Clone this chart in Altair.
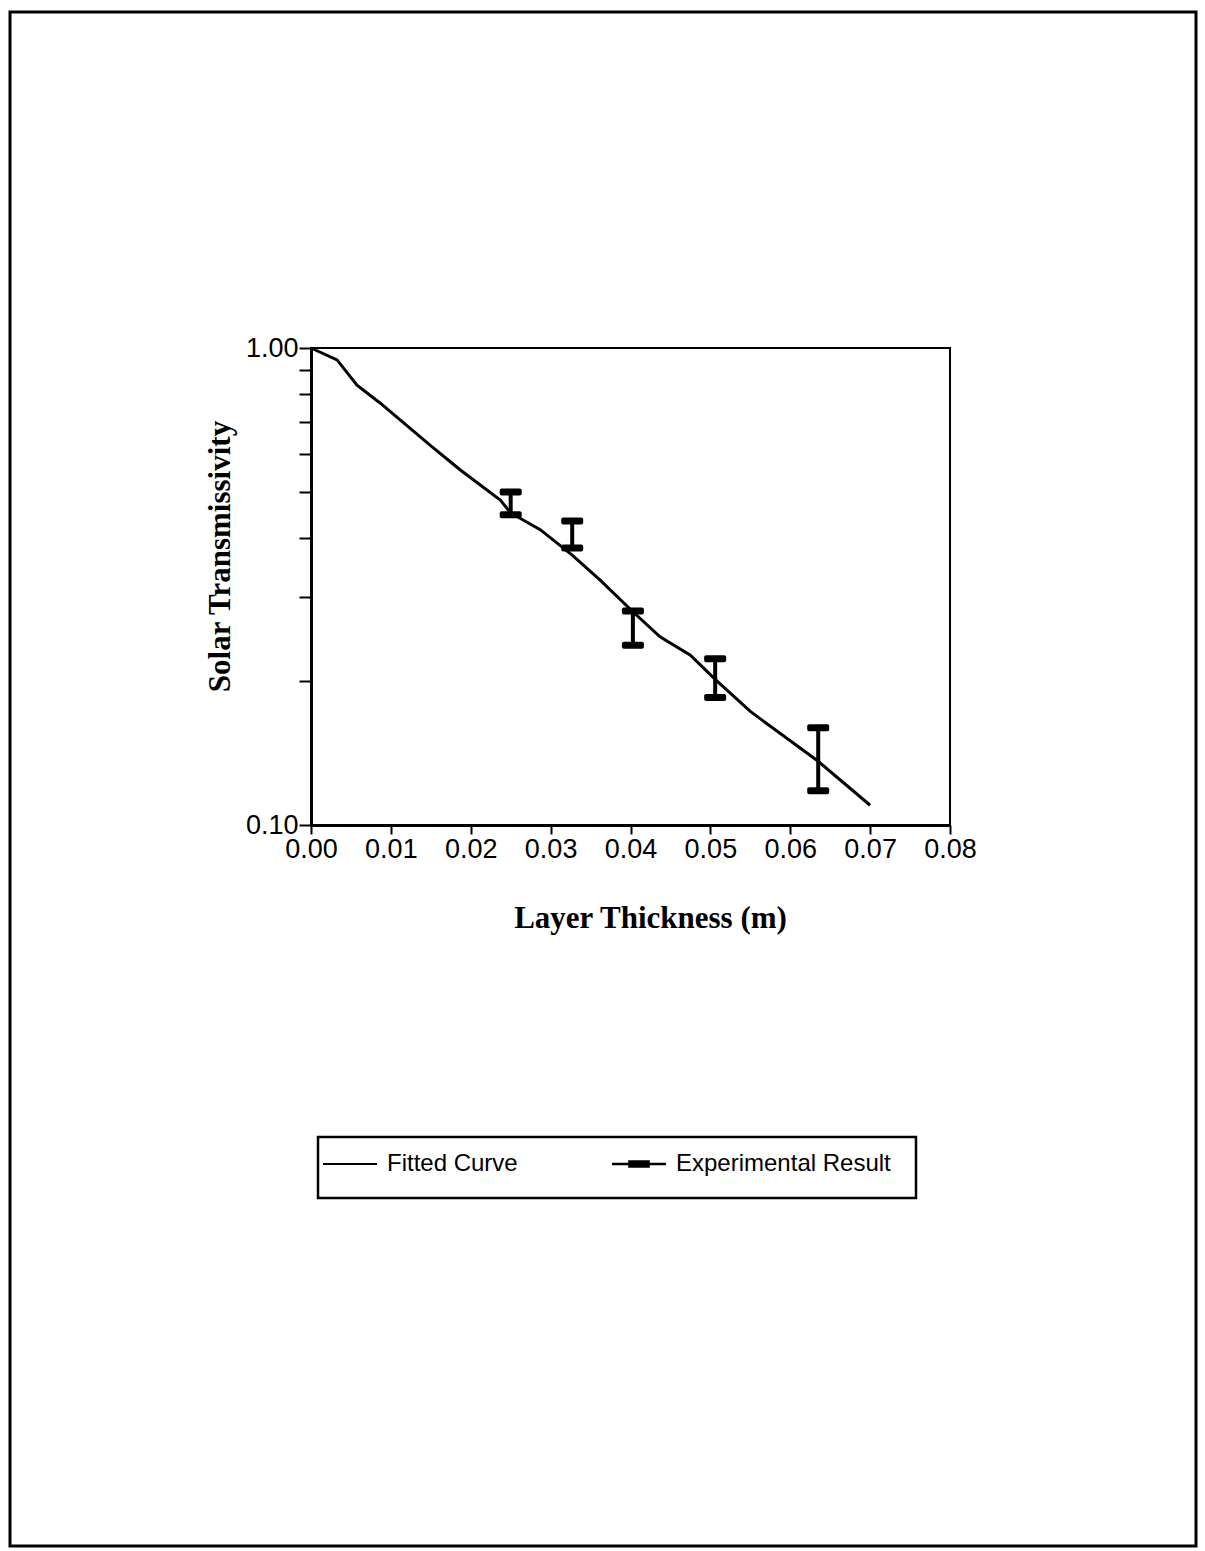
import altair as alt
import pandas as pd

# Fitted curve
curve_x = [0.0, 0.00326, 0.00576, 0.00864, 0.0149, 0.0187, 0.0237, 0.0250, 0.0287,
           0.0327, 0.0362, 0.0403, 0.0437, 0.0475, 0.0506, 0.0550, 0.0635, 0.0700]
curve_y = [1.0, 0.944, 0.836, 0.767, 0.626, 0.555, 0.480, 0.451, 0.416,
           0.368, 0.326, 0.280, 0.248, 0.227, 0.202, 0.173, 0.136, 0.110]

# Experimental results (error bars)
exp_x = [0.0250, 0.0327, 0.0403, 0.0506, 0.0635]
exp_hi = [0.499, 0.434, 0.281, 0.223, 0.160]
exp_lo = [0.447, 0.381, 0.238, 0.185, 0.118]

series = ["Fitted Curve", "Experimental Result"]
y_ticks = [0.1, 0.2, 0.3, 0.4, 0.5, 0.6, 0.7, 0.8, 0.9, 1.0]
x_ticks = [0.0, 0.01, 0.02, 0.03, 0.04, 0.05, 0.06, 0.07, 0.08]

curve = pd.DataFrame({"x": curve_x, "y": curve_y})
exp = pd.DataFrame({"x": exp_x, "hi": exp_hi, "lo": exp_lo})
leg = pd.DataFrame({"series": series, "x": [0.03, 0.03], "y": [0.5, 0.5]})

W, H = 639, 477
PL, PT = 311, 348

xs = alt.Scale(domain=[0, 0.08], nice=False, zero=False)
ys = alt.Scale(type="log", domain=[0.1, 1.0], nice=False)

x_axis = alt.Axis(values=x_ticks, format=".2f", title="Layer Thickness (m)",
                  tickSize=9, labelPadding=2, labelFlush=False, labelOverlap=False,
                  titleX=339, titleY=102, titleBaseline="alphabetic")
y_axis = alt.Axis(values=y_ticks, title="Solar Transmissivity", tickSize=12,
                  labelExpr="(datum.value > 0.95 || datum.value < 0.15) ? format(datum.value, '.2f') : ''",
                  labelPadding=1, labelOverlap=False, labelFlush=False,
                  titleX=-82, titleY=208, titleBaseline="alphabetic", titleAngle=270)

line = alt.Chart(curve).mark_line(color="black", strokeWidth=3).encode(
    x=alt.X("x:Q", scale=xs, axis=x_axis),
    y=alt.Y("y:Q", scale=ys, axis=y_axis),
)

rules = alt.Chart(exp).mark_rule(color="black", strokeWidth=4).encode(
    x=alt.X("x:Q", scale=xs),
    y=alt.Y("lo:Q", scale=ys),
    y2="hi:Q",
)
caps_hi = alt.Chart(exp).mark_tick(color="black", orient="horizontal", size=22,
                                   thickness=7, cornerRadius=2, opacity=1).encode(
    x=alt.X("x:Q", scale=xs), y=alt.Y("hi:Q", scale=ys))
caps_lo = alt.Chart(exp).mark_tick(color="black", orient="horizontal", size=22,
                                   thickness=7, cornerRadius=2, opacity=1).encode(
    x=alt.X("x:Q", scale=xs), y=alt.Y("lo:Q", scale=ys))

# legend symbols as filled paths (unit square -1..1)
sym_line = "M-1,-0.04H1V0.04H-1Z"
sym_exp = "M-1,-0.05H1V0.05H-1ZM-0.4,-0.14H0.4V0.14H-0.4Z"

legend_pts = alt.Chart(leg).mark_point(filled=True, opacity=0).encode(
    x=alt.X("x:Q", scale=xs),
    y=alt.Y("y:Q", scale=ys),
    fill=alt.value("black"),
    shape=alt.Shape("series:N", scale=alt.Scale(domain=series, range=[sym_line, sym_exp]),
                    legend=alt.Legend(title=None, orient="none", direction="horizontal",
                                      legendX=12, legendY=789, symbolSize=2916,
                                      symbolStrokeWidth=0, symbolFillColor="black",
                                      symbolOpacity=1,
                                      labelFont="Liberation Sans", labelFontSize=24,
                                      labelColor="black", symbolOffset=0,
                                      labelOffset=10, columnPadding=94, padding=0,
                                      labelLimit=400)),
)

legend_box = alt.Chart(pd.DataFrame({"k": ["legend"]})).mark_rect(
    fill=None, stroke="black", strokeWidth=2.5, clip=False).encode(
    x=alt.value(318 - PL), x2=alt.value(916 - PL),
    y=alt.value(1137 - PT), y2=alt.value(1198 - PT))
frame = alt.Chart(pd.DataFrame({"k": ["frame"]})).mark_rect(
    fill=None, stroke="black", strokeWidth=3, clip=False).encode(
    x=alt.value(10 - PL), x2=alt.value(1196 - PL),
    y=alt.value(12 - PT), y2=alt.value(1546 - PT))

chart = alt.layer(frame, legend_box, line, rules, caps_hi, caps_lo, legend_pts).properties(
    width=W, height=H,
    padding={"left": PL, "top": PT, "right": 1205 - PL - W, "bottom": 1551 - PT - H},
    autosize=alt.AutoSizeParams(type="none"),
    background="white",
).configure_view(stroke="black", strokeWidth=2).configure_axis(
    grid=False, domainColor="black", domainWidth=3, tickColor="black", tickWidth=2,
    labelFont="Liberation Sans", labelFontSize=27, labelColor="black",
    titleFont="Liberation Serif", titleFontSize=31, titleFontWeight="bold",
    titleColor="black",
)

chart.save("out.html", embed_options={"renderer": "svg", "actions": False})
